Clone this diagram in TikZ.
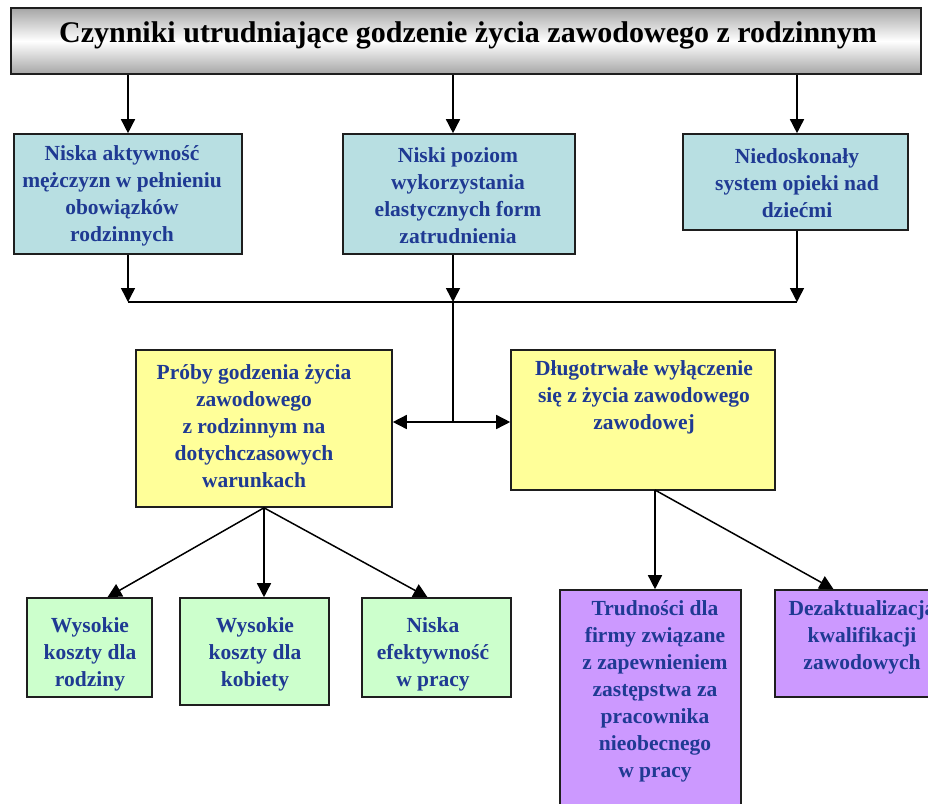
\documentclass[tikz,border=0pt]{standalone}
\usepackage{fontspec}
\setmainfont{Liberation Serif}
\usetikzlibrary{arrows.meta,calc}
\definecolor{txtblue}{RGB}{31,58,147}
\definecolor{cyanbox}{RGB}{184,223,226}
\definecolor{yelbox}{RGB}{255,255,153}
\definecolor{grnbox}{RGB}{204,255,204}
\definecolor{purbox}{RGB}{204,153,255}
\definecolor{edge}{RGB}{30,30,30}
\begin{document}
\begin{tikzpicture}[x=1pt,y=-1pt,
  box/.style={draw=edge,line width=1.6pt,inner sep=0pt},
  label/.style={align=center,text=txtblue,font=\fontsize{21.5}{27}\selectfont\bfseries,inner sep=0pt},
  conn/.style={line width=1.5pt,draw=black},
  arr/.style={conn,-{Triangle[length=14pt,width=14pt]}}]
\useasboundingbox (0,0) rectangle (928,803);
% title
\node[box,top color=gray!70,bottom color=gray!70,middle color=white,minimum width=910,minimum height=66] (title) at (466,41) {};
\node[inner sep=0pt,font=\fontsize{30}{34}\selectfont\bfseries] (titlet) at (468,35) {Czynniki utrudniające godzenie życia zawodowego z rodzinnym};
% top row
\node[box,fill=cyanbox,minimum width=228,minimum height=120] (b1) at (128,194) {};
\node[box,fill=cyanbox,minimum width=232,minimum height=120] (b2) at (459,194) {};
\node[box,fill=cyanbox,minimum width=225,minimum height=96] (b3) at (795.5,182) {};
\node[label] (t1) at (122,196) {Niska aktywność\\mężczyzn w pełnieniu\\obowiązków\\rodzinnych};
\node[label] (t2) at (458,196) {Niski poziom\\wykorzystania\\elastycznych form\\zatrudnienia};
\node[label] (t3) at (797,183) {Niedoskonały\\system opieki nad\\dziećmi};
% middle row
\node[box,fill=yelbox,minimum width=256,minimum height=157] (b4) at (264,428.5) {};
\node[box,fill=yelbox,minimum width=264,minimum height=140] (b5) at (643,420) {};
\node[label] (t4) at (254,426) {Próby godzenia życia\\zawodowego\\z rodzinnym na\\dotychczasowych\\warunkach};
\node[label] (t5) at (644,397) {Długotrwałe wyłączenie\\się z życia zawodowego\\zawodowej};
% bottom row
\node[box,fill=grnbox,minimum width=125,minimum height=99] (g1) at (89.5,647.5) {};
\node[box,fill=grnbox,minimum width=149,minimum height=107] (g2) at (254.5,651.5) {};
\node[box,fill=grnbox,minimum width=149,minimum height=99] (g3) at (436.5,647.5) {};
\node[label] (tg1) at (90,654) {Wysokie\\koszty dla\\rodziny};
\node[label] (tg2) at (255,654) {Wysokie\\koszty dla\\kobiety};
\node[label] (tg3) at (433,654) {Niska\\efektywność\\w pracy};
\node[box,fill=purbox,minimum width=181,minimum height=240] (p1) at (650.5,710) {};
\node[box,fill=purbox,minimum width=175,minimum height=107] (p2) at (862.5,643.5) {};
\node[label] (tp1) at (655,691) {Trudności dla\\firmy związane\\z zapewnieniem\\zastępstwa za\\pracownika\\nieobecnego\\w pracy};
\node[label] (tp2) at (862,637) {Dezaktualizacja\\kwalifikacji\\zawodowych};
% connectors from title
\coordinate (a1) at (128,75);
\coordinate (a2) at (453,75);
\coordinate (a3) at (797,75);
\draw[arr] (a1) -- (a1 |- b1.north);
\draw[arr] (a2) -- (a2 |- b2.north);
\draw[arr] (a3) -- (a3 |- b3.north);
% collector
\coordinate (j1) at (128,302);
\coordinate (j2) at (453,302);
\coordinate (j3) at (797,302);
\coordinate (j4) at (453,422);
\draw[arr] (b1.south) -- (j1);
\draw[arr] (j2 |- b2.south) -- (j2);
\draw[arr] (j3 |- b3.south) -- (j3);
\draw[conn] (j1) -- (j3);
\draw[conn] (j2) -- (j4);
\draw[arr] (j4) -- (b4.east |- j4);
\draw[arr] (j4) -- (b5.west |- j4);
% fan from b4
\draw[arr] (b4.south) -- ([xshift=18pt]g1.north);
\draw[arr] (b4.south) -- (b4.south |- g2.north);
\draw[arr] (b4.south) -- ([xshift=-9pt]g3.north);
% fan from b5
\coordinate (f5) at (655,490);
\draw[arr] (f5) -- (f5 |- p1.north);
\draw[arr] (f5) -- ([xshift=-29pt]p2.north);
\end{tikzpicture}
\end{document}
